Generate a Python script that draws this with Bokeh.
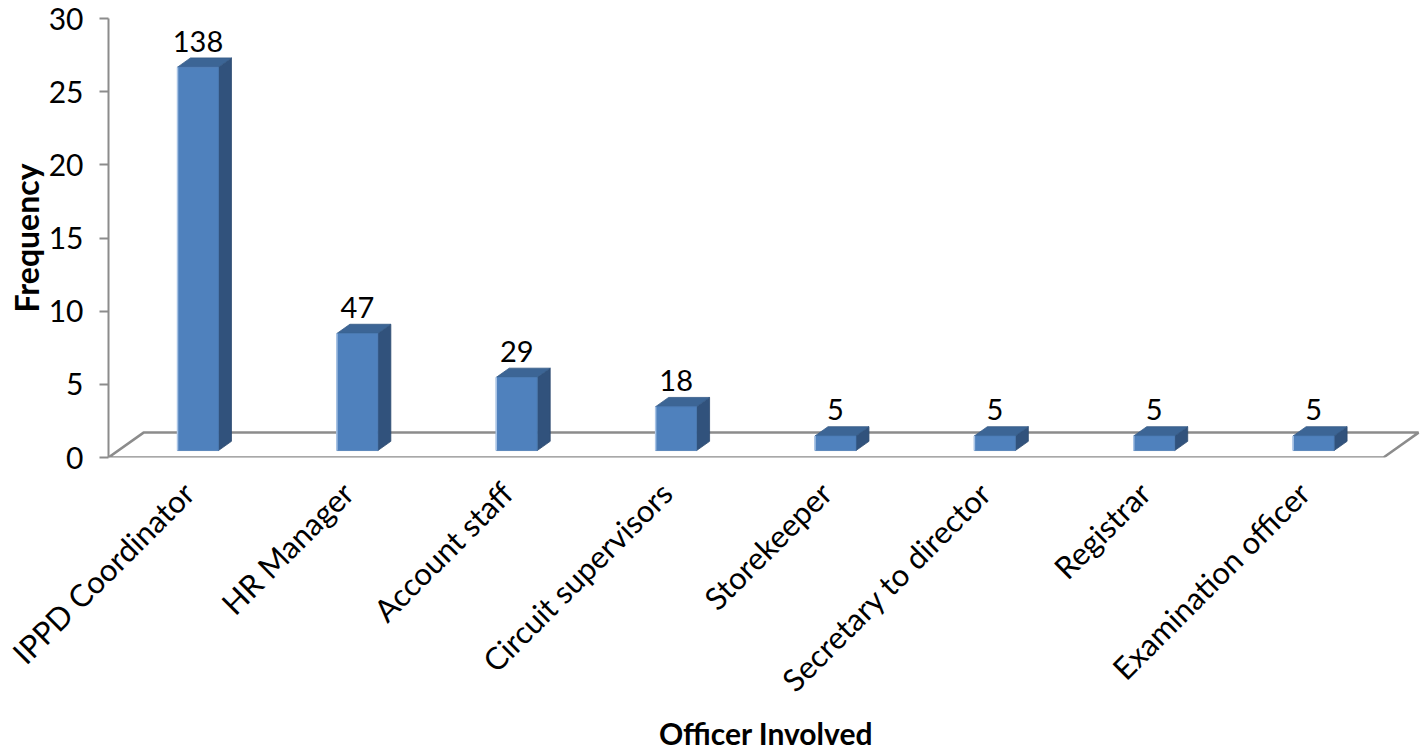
from bokeh.plotting import figure
from bokeh.models import Range1d, FixedTicker, ColumnDataSource
from bokeh.core.properties import value
from bokeh.embed import file_html
from bokeh.resources import INLINE
import math

categories = ["IPPD Coordinator", "HR Manager", "Account staff", "Circuit supervisors",
              "Storekeeper", "Secretary to director", "Registrar", "Examination officer"]
heights = [26.2, 8.0, 5.0, 3.0, 1.0, 1.0, 1.0, 1.0]
bar_labels = ["138", "47", "29", "18", "5", "5", "5", "5"]
y_ticks = [0, 5, 10, 15, 20, 25, 30]
x_title = "Officer Involved"
y_title = "Frequency"

# 3D styling constants (depth projection)
DX, DY = 0.22, 1.70        # floor depth offset in data units
FB, FK = 0.28, 0.65        # bar front / back depth fractions
W = 0.257                  # bar width
FONT = "Lato"
GRAY = "#8c8c8c"

p = figure(width=1423, height=756, output_backend="svg", toolbar_location=None,
           x_range=Range1d(-0.5, 7.751), y_range=Range1d(0, 30),
           min_border_left=108, min_border_right=0, min_border_top=18, min_border_bottom=299)
p.outline_line_color = None
p.grid.visible = False
p.background_fill_color = "white"

n = len(categories)
xs = list(range(n))

# floor
fx = [-0.5, n - 0.5, n - 0.5 + DX, -0.5 + DX]
fy = [0, 0, DY, DY]
p.patch(fx, fy, fill_color="white", line_color=GRAY, line_width=2.5)

# bars
left, right, bottom, top = [], [], [], []
side_x, side_y, top_x, top_y = [], [], [], []
ddx, ddy = (FK - FB) * DX, (FK - FB) * DY
for i, v in zip(xs, heights):
    c = i + FB * DX
    l, r = c - W / 2, c + W / 2
    b = FB * DY
    t = b + v
    left.append(l); right.append(r); bottom.append(b); top.append(t)
    side_x.append([r, r + ddx, r + ddx, r])
    side_y.append([b, b + ddy, t + ddy, t])
    top_x.append([l, r, r + ddx, l + ddx])
    top_y.append([t, t, t + ddy, t + ddy])

p.patches(side_x, side_y, fill_color="#31527c", line_color="#2c4a70", line_width=0.8)
p.patches(top_x, top_y, fill_color="#3c6595", line_color="#355a86", line_width=0.8)
p.quad(left=left, right=right, bottom=bottom, top=top,
       fill_color="#4f81bd", line_color="#4a7ab3", line_width=0.8)
p.segment(x0=left, y0=bottom, x1=left, y1=top, line_color="#a9c4e6", line_width=1.5)

src = ColumnDataSource(dict(x=[(l + r) / 2 for l, r in zip(left, right)], y=top, t=bar_labels))
p.text(x="x", y="y", text="t", source=src, text_align="center", text_baseline="alphabetic",
       y_offset=-26, text_font=value(FONT), text_font_size="29px", text_color="black")

# y axis
ya = p.yaxis[0]
ya.ticker = FixedTicker(ticks=y_ticks)
ya.axis_line_color = GRAY
ya.axis_line_width = 2
ya.major_tick_line_color = GRAY
ya.major_tick_line_width = 2
ya.major_tick_out = 9
ya.major_tick_in = 0
ya.minor_tick_line_color = None
ya.major_label_standoff = 16
ya.major_label_text_font = FONT
ya.major_label_text_font_size = "30px"
ya.major_label_text_color = "black"
ya.axis_label = y_title
ya.axis_label_text_font = FONT
ya.axis_label_text_font_size = "32px"
ya.axis_label_text_font_style = "bold"
ya.axis_label_text_color = "black"
ya.axis_label_standoff = 0

# x axis
xa = p.xaxis[0]
xa.ticker = FixedTicker(ticks=xs)
xa.major_label_overrides = {i: c for i, c in zip(xs, categories)}
xa.axis_line_color = None
xa.major_tick_line_color = None
xa.minor_tick_line_color = None
xa.major_tick_out = 0
xa.major_label_standoff = 30
xa.major_label_orientation = math.pi / 4
xa.major_label_text_font = FONT
xa.major_label_text_font_size = "31px"
xa.major_label_text_color = "black"
xa.axis_label = x_title
xa.axis_label_text_font = FONT
xa.axis_label_text_font_size = "30px"
xa.axis_label_text_font_style = "bold"
xa.axis_label_text_color = "black"
xa.axis_label_standoff = 0

open("out.html", "w").write(file_html(p, INLINE))
